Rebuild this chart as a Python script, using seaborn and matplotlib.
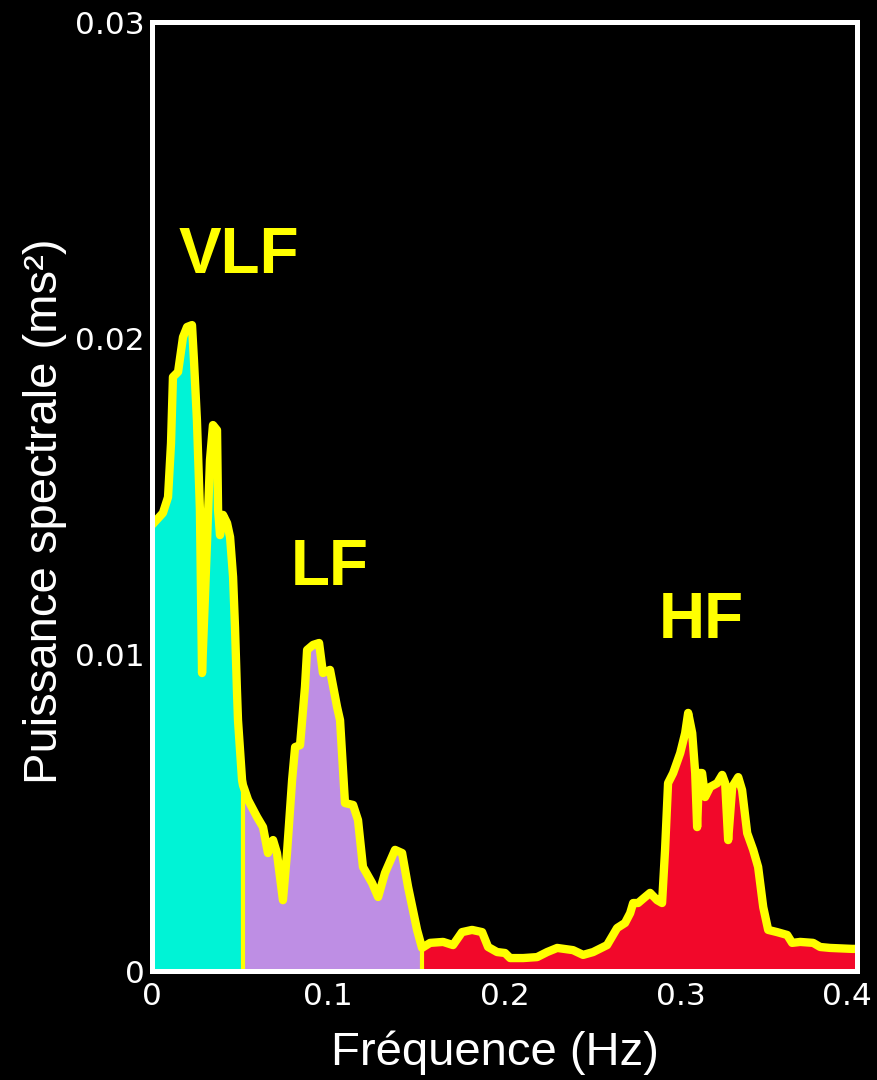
import numpy as np
import pandas as pd
import matplotlib
matplotlib.use("Agg")
import matplotlib.pyplot as plt
import matplotlib.transforms as mtransforms
import seaborn as sns

# Heart-rate variability power spectrum (frequency in Hz, power in ms^2)
freq = [
    0.0000, 0.0062, 0.0091, 0.0108, 0.0119, 0.0148, 0.0176, 0.0199, 0.0227, 0.0238,
    0.0255, 0.0272, 0.0284, 0.0312, 0.0329, 0.0346, 0.0369, 0.0375, 0.0386, 0.0403,
    0.0426, 0.0443, 0.0460, 0.0471, 0.0482, 0.0488, 0.0511, 0.0516,
    0.0545, 0.0596, 0.0630, 0.0658, 0.0687, 0.0709, 0.0743, 0.0766, 0.0795, 0.0812,
    0.0840, 0.0868, 0.0880, 0.0914, 0.0948, 0.0970, 0.1010, 0.1050, 0.1067, 0.1095,
    0.1141, 0.1169, 0.1197, 0.1249, 0.1283, 0.1322, 0.1379, 0.1419, 0.1453, 0.1504,
    0.1532,
    0.1578, 0.1652, 0.1708, 0.1759, 0.1816, 0.1873, 0.1907, 0.1958, 0.2003, 0.2032,
    0.2106, 0.2185, 0.2242, 0.2299, 0.2389, 0.2446, 0.2503, 0.2582, 0.2639, 0.2684,
    0.2713, 0.2730, 0.2758, 0.2798, 0.2826, 0.2866, 0.2894, 0.2911, 0.2928, 0.2957,
    0.2997, 0.3025, 0.3042, 0.3065, 0.3082, 0.3093, 0.3104, 0.3121, 0.3138, 0.3167,
    0.3207, 0.3235, 0.3252, 0.3269, 0.3292, 0.3326, 0.3348, 0.3377, 0.3411, 0.3439,
    0.3468, 0.3496, 0.3547, 0.3604, 0.3632, 0.3678, 0.3751, 0.3791, 0.3848, 0.3973,
    0.4000,
]
power = [
    0.01410, 0.01448, 0.01498, 0.01669, 0.01878, 0.01894, 0.02004, 0.02036, 0.02042, 0.01932,
    0.01742, 0.01457, 0.00942, 0.01353, 0.01615, 0.01726, 0.01710, 0.01457, 0.01378, 0.01442,
    0.01416, 0.01372, 0.01246, 0.01087, 0.00888, 0.00793, 0.00604, 0.00588,
    0.00541, 0.00487, 0.00455, 0.00373, 0.00414, 0.00373, 0.00224, 0.00373, 0.00604, 0.00708,
    0.00714, 0.00898, 0.01015, 0.01031, 0.01037, 0.00942, 0.00952, 0.00835, 0.00793, 0.00531,
    0.00525, 0.00477, 0.00329, 0.00278, 0.00234, 0.00310, 0.00383, 0.00373, 0.00266, 0.00130,
    0.00073,
    0.00089, 0.00092, 0.00082, 0.00123, 0.00130, 0.00123, 0.00076, 0.00060, 0.00057, 0.00041,
    0.00041, 0.00044, 0.00060, 0.00073, 0.00066, 0.00051, 0.00060, 0.00082, 0.00136, 0.00152,
    0.00183, 0.00215, 0.00215, 0.00234, 0.00247, 0.00224, 0.00215, 0.00383, 0.00594, 0.00626,
    0.00689, 0.00752, 0.00816, 0.00752, 0.00626, 0.00455, 0.00626, 0.00626, 0.00550, 0.00582,
    0.00594, 0.00620, 0.00594, 0.00414, 0.00582, 0.00613, 0.00572, 0.00436, 0.00383, 0.00329,
    0.00202, 0.00130, 0.00123, 0.00114, 0.00089, 0.00092, 0.00089, 0.00076, 0.00073, 0.00070,
    0.00070,
]

band_names = ["VLF", "LF", "HF"]
band_edges = [0.0, 0.0516, 0.1532, 0.4]
band_colors = ["#00F3D6", "#BE8EE4", "#F2082A"]

x_ticks = [0, 0.1, 0.2, 0.3, 0.4]
x_tick_labels = ["0", "0.1", "0.2", "0.3", "0.4"]
y_ticks = [0, 0.01, 0.02, 0.03]
y_tick_labels = ["0", "0.01", "0.02", "0.03"]

df = pd.DataFrame({"freq": freq, "power": power})

sns.set_theme(style="dark")
plt.rcParams["font.family"] = ["Liberation Sans", "DejaVu Sans"]

fig = plt.figure(figsize=(8.77, 10.8), dpi=100, facecolor="black")
ax = fig.add_axes([0.1733, 0.1009, 0.8039, 0.8787])
ax.set_facecolor("black")

yellow = "#FFFF00"

# coloured bands under the spectrum
for (lo, hi), col in zip(zip(band_edges[:-1], band_edges[1:]), band_colors):
    part = df[(df["freq"] >= lo) & (df["freq"] <= hi)]
    ax.fill_between(part["freq"], 0, part["power"], color=col, linewidth=0, zorder=1)

# thin separators between bands
for edge in band_edges[1:-1]:
    top = float(np.interp(edge, df["freq"], df["power"]))
    ax.vlines(edge, 0, top, color=yellow, linewidth=3, zorder=1.5)

# spectrum outline
sns.lineplot(data=df, x="freq", y="power", color=yellow, linewidth=6,
             sort=False, estimator=None, ax=ax, zorder=2)

# band names
label_pos = {"VLF": (0.0494, 0.0226), "LF": (0.101, 0.01274), "HF": (0.3116, 0.01106)}
for name in band_names:
    lx, ly = label_pos[name]
    ax.text(lx, ly, name, color=yellow, fontsize=46, fontweight="bold",
            ha="center", va="center", family=["Liberation Sans", "DejaVu Sans"])

ax.set_xlim(0, 0.4)
ax.set_ylim(0, 0.03)
ax.set_xticks(x_ticks)
ax.set_xticklabels(x_tick_labels)
ax.set_yticks(y_ticks)
ax.set_yticklabels(y_tick_labels)

ax.tick_params(axis="both", direction="in", colors="white", length=14, width=1.6)
ax.tick_params(axis="x", pad=8)
ax.tick_params(axis="y", pad=5)
ax.grid(False)

for lab in ax.get_xticklabels() + ax.get_yticklabels():
    lab.set_family(["DejaVu Sans"])
    lab.set_fontsize(22.5)
    lab.set_color("white")

# keep the last frequency label inside the figure
last = ax.xaxis.get_major_ticks()[-1].label1
last.set_transform(last.get_transform() +
                   mtransforms.ScaledTranslation(-7 / 72, 0, fig.dpi_scale_trans))

for sp in ax.spines.values():
    sp.set_visible(True)
    sp.set_color("white")
    sp.set_linewidth(3.6)
    sp.set_zorder(3)

ax.set_xlabel("Fréquence (Hz)", color="white", fontsize=34)
ax.set_ylabel("Puissance spectrale (ms²)", color="white", fontsize=34)
ax.xaxis.set_label_coords(0.487, -0.063)
ax.yaxis.set_label_coords(-0.12, 0.484)

fig.savefig("out.png", dpi=100, facecolor="black")
